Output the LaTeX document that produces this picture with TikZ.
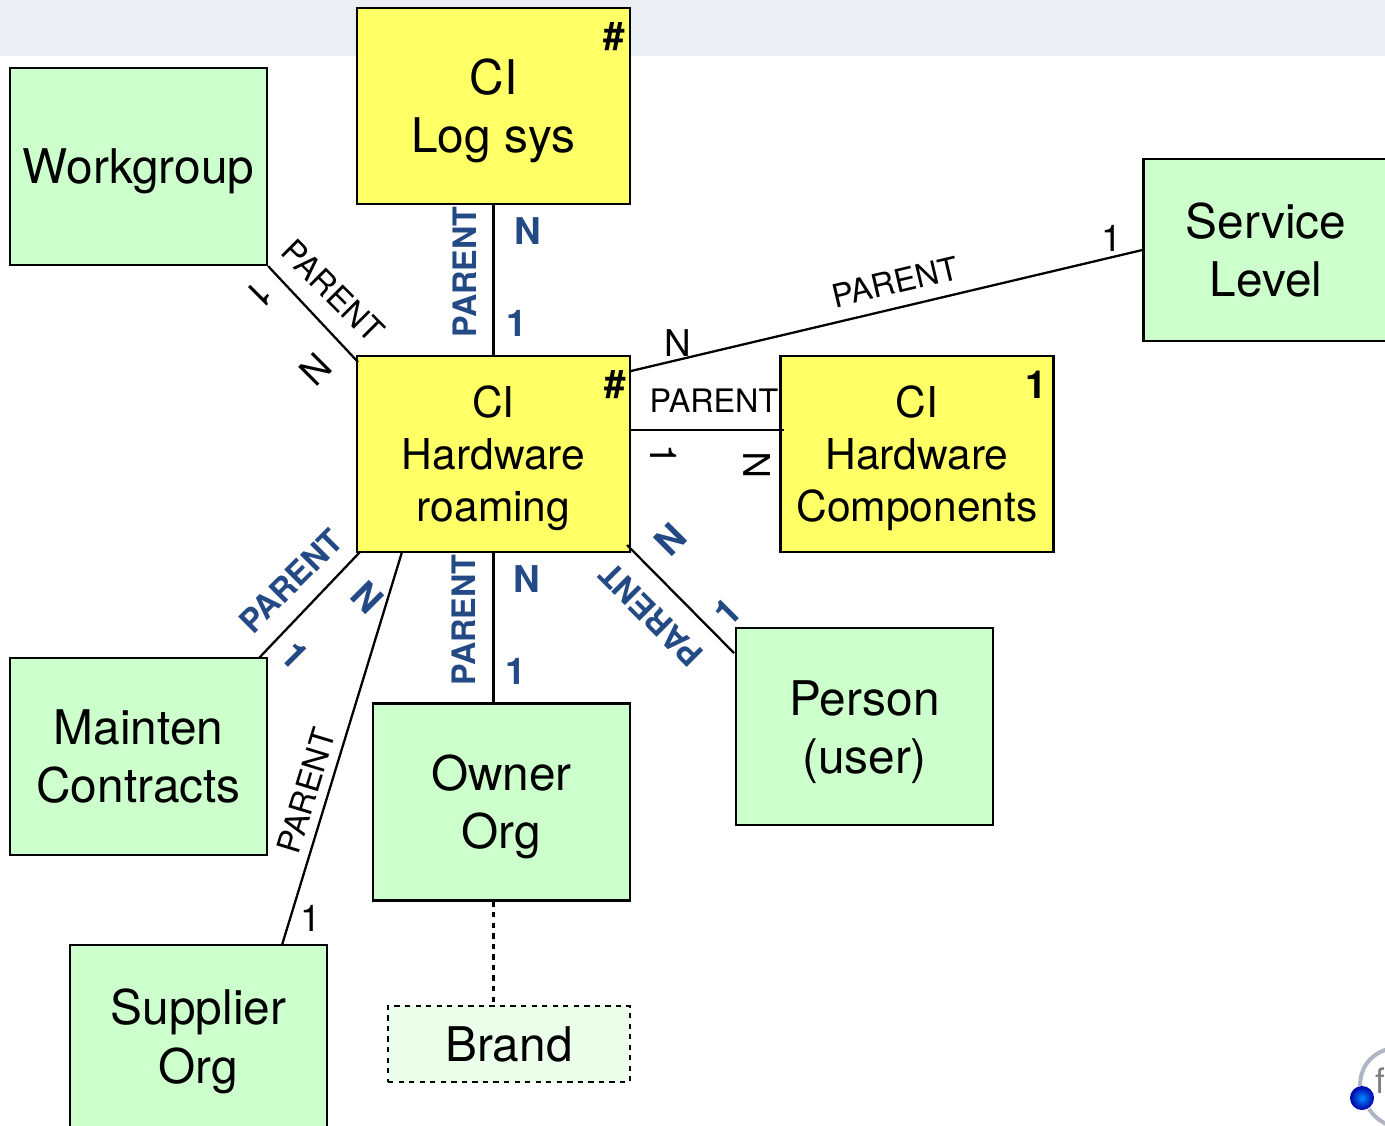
\documentclass[tikz,border=0pt]{standalone}
\usepackage{fontspec}
\setmainfont{TeX Gyre Heros}
\definecolor{band}{HTML}{EBEFF4}
\definecolor{cigreen}{HTML}{CCFFCC}
\definecolor{ciyellow}{HTML}{FFFF66}
\definecolor{brandfill}{HTML}{EBFFEB}
\definecolor{relblue}{HTML}{234A85}
\definecolor{logoarc}{HTML}{AEB6C6}
\newcommand{\lowfirst}[1]{\rule{0pt}{#1pt}}
\tikzset{
  box/.style={draw=black,line width=1.3pt,inner sep=0pt,align=center},
  bigbox/.style={box,font=\fontsize{27.2}{33.3}\selectfont},
  cibox/.style={box,fill=ciyellow,minimum width=5.46cm,minimum height=3.92cm,font=\fontsize{24.2}{29.7}\selectfont},
  entity/.style={bigbox,fill=cigreen,minimum width=5.14cm,minimum height=3.94cm},
  rel/.style={draw=black,line width=1.3pt},
  tag/.style={inner sep=0pt,font=\fontsize{18.4}{18.4}\selectfont},
  card/.style={inner sep=0pt,font=\fontsize{21}{21}\selectfont},
  bluetag/.style={tag,text=relblue,font=\fontsize{18.4}{18.4}\selectfont\bfseries},
  bluecard/.style={card,text=relblue,font=\fontsize{21}{21}\selectfont\bfseries},
  cornertag/.style={tag,font=\fontsize{22}{22}\selectfont\bfseries}
}
\begin{document}
\begin{tikzpicture}[x=0.02cm,y=-0.02cm]
\useasboundingbox (0,0) rectangle (1385,1125);
\clip (0,0) rectangle (1385,1125);
\fill [band] (0,0) rectangle (1385,56);
% boxes
\node [bigbox,fill=ciyellow,minimum width=5.46cm,minimum height=3.92cm] (logsys) at (493.5,106) {\lowfirst{26}CI\\Log sys};
\node [entity] (workgroup) at (138.5,166.5) {\lowfirst{25}Workgroup};
\node [entity,minimum width=4.9cm,minimum height=3.64cm] (service) at (1266,250) {Service\\Level};
\node [cibox] (roaming) at (493.5,454) {\lowfirst{23}CI\\Hardware\\roaming};
\node [cibox] (components) at (917,454) {\lowfirst{23}CI\\Hardware\\Components};
\node [entity] (person) at (864.5,726.5) {\lowfirst{26}Person\\(user)};
\node [entity] (owner) at (501.5,802) {\lowfirst{26}Owner\\Org};
\node [entity] (mainten) at (138.5,756.5) {Mainten\\Contracts};
\node [entity,minimum height=3.86cm] (supplier) at (198.5,1041.5) {Supplier\\Org};
\node [bigbox,dashed,fill=brandfill,minimum width=4.84cm,minimum height=1.52cm] (brand) at (509,1044) {Brand};
% free ends
\coordinate (wgend) at (358,362);
\coordinate (servend) at (631,371);
\coordinate (compa) at (631,430);
\coordinate (compb) at (784,430);
\coordinate (mainend) at (360,552);
\coordinate (suppa) at (402,552);
\coordinate (suppb) at (282,945);
\coordinate (persa) at (627,545);
\coordinate (persb) at (734,653);
\coordinate (mainb) at (259,658);
% relations
\draw [rel] (logsys.south) -- (roaming.north);
\draw [rel] (workgroup.south east) -- (wgend);
\draw [rel] (servend) -- (service.west);
\draw [rel] (compa) -- (compb);
\draw [rel] (mainend) -- (mainb);
\draw [rel] (suppa) -- (suppb);
\draw [rel] (roaming.south) -- (roaming.south |- owner.north);
\draw [rel] (persa) -- (persb);
\draw [rel,dashed] (roaming.south |- owner.south) -- (roaming.south |- brand.north);
% corner marks
\node [cornertag] (hash1) at (614,37) {\#};
\node [cornertag] (hash2) at (615,385) {\#};
\node [cornertag] (one1) at (1036,385) {1};
% log sys
\node [bluetag,rotate=90] (lp) at (465,272) {PARENT};
\node [bluecard] (ln) at (528,231) {N};
\node [bluecard] (l1) at (517,323) {1};
% workgroup
\node [tag,rotate=-45] (wp) at (333,291) {PARENT};
\node [card,rotate=-135] (w1) at (259,295) {1};
\node [card,rotate=-135] (wn) at (316,369) {N};
% service
\node [tag,rotate=13.3] (sp) at (895,282) {PARENT};
\node [card] (sn) at (678,343) {N};
\node [card] (s1) at (1112,238) {1};
% components
\node [tag] (cp) at (714,401) {PARENT};
\node [card,rotate=-90] (c1) at (664,455) {1};
\node [card,rotate=90] (cn) at (757,465) {N};
% mainten
\node [bluetag,rotate=45] (mp) at (291,581) {PARENT};
\node [bluecard,rotate=-45] (mn) at (367,597) {N};
\node [bluecard,rotate=-45] (m1) at (295,655) {1};
% owner
\node [bluetag,rotate=90] (op) at (464,620) {PARENT};
\node [bluecard] (on) at (527,579) {N};
\node [bluecard] (o1) at (516,671) {1};
% person
\node [bluetag,rotate=135] (pp) at (651,615) {PARENT};
\node [bluecard,rotate=45] (pn) at (670,540) {N};
\node [bluecard,rotate=45] (p1) at (727,612) {1};
% supplier
\node [tag,rotate=73] (up) at (306,791) {PARENT};
\node [card] (u1) at (311,918) {1};
% logo
\draw [logoarc,line width=2.3pt] (1360,1086) .. controls (1360,1070) and (1368,1055) .. (1388,1049);
\draw [logoarc,line width=2.3pt] (1369,1109) .. controls (1373,1115) and (1378,1120) .. (1388,1125);
\node [font=\fontsize{20}{20}\selectfont,text=gray] (logof) at (1380,1081) {f};
\shade [inner color=cyan!55!blue,outer color=blue!65!black] (1362,1098) circle [radius=0.24cm];
\end{tikzpicture}
\end{document}
